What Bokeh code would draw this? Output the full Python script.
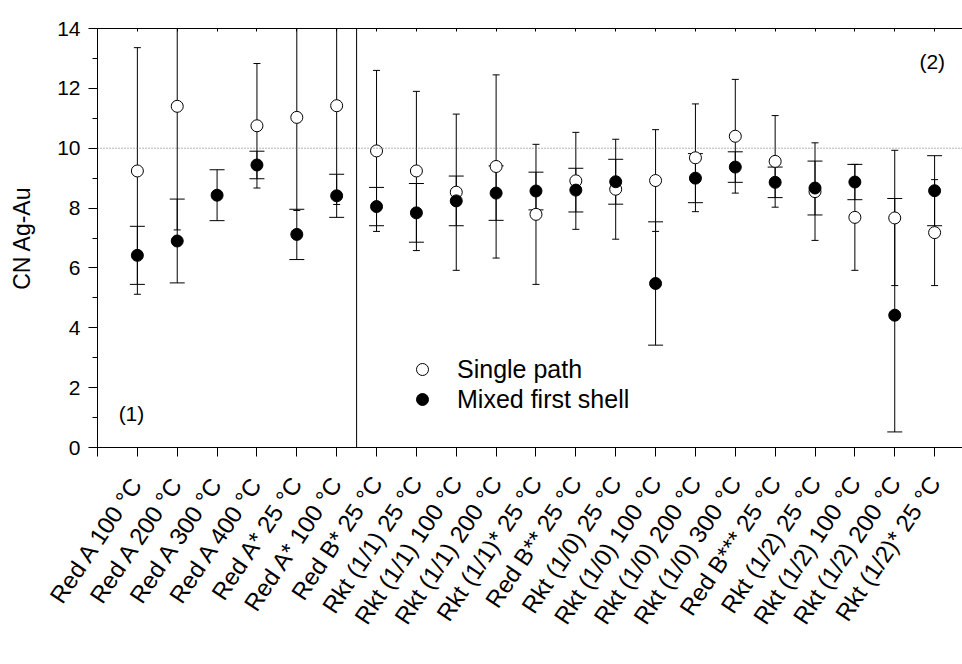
from bokeh.plotting import figure
from bokeh.models import (ColumnDataSource, Range1d, FixedTicker, SingleIntervalTicker,
                          LinearAxis, Span, Label, Legend, LegendItem)
from bokeh.embed import file_html
from bokeh.resources import INLINE

# ---- data -------------------------------------------------------------
categories = ["Red A 100 °C", "Red A 200 °C", "Red A 300 °C", "Red A 400 °C",
              "Red A* 25 °C", "Red A* 100 °C", "Red B* 25 °C",
              "Rkt (1/1) 25 °C", "Rkt (1/1) 100 °C", "Rkt (1/1) 200 °C",
              "Rkt (1/1)* 25 °C", "Red B** 25 °C",
              "Rkt (1/0) 25 °C", "Rkt (1/0) 100 °C", "Rkt (1/0) 200 °C",
              "Rkt (1/0) 300 °C", "Red B*** 25 °C",
              "Rkt (1/2) 25 °C", "Rkt (1/2) 100 °C", "Rkt (1/2) 200 °C",
              "Rkt (1/2)* 25 °C"]

single_path = [9.24, 11.40, None, 10.75, 11.03, 11.42, 9.91, 9.24, 8.53, 9.39, 7.79,
               8.91, 8.63, 8.92, 9.68, 10.40, 9.56, 8.55, 7.69, 7.67, 7.18]
single_err = [4.12, 4.13, None, 2.08, 3.11, 3.30, 2.69, 2.66, 2.61, 3.06, 2.34,
              1.62, 1.67, 1.70, 1.80, 1.90, 1.53, 1.63, 1.77, 2.26, 1.77]

mixed_shell = [6.42, 6.90, 8.43, 9.44, 7.12, 8.41, 8.05, 7.84, 8.24, 8.50, 8.57,
               8.60, 8.88, 5.48, 9.00, 9.37, 8.86, 8.67, 8.87, 4.42, 8.58]
mixed_err = [0.97, 1.40, 0.85, 0.46, 0.84, 0.72, 0.64, 0.98, 0.83, 0.91, 0.63,
             0.73, 0.75, 2.06, 0.82, 0.51, 0.51, 0.90, 0.59, 3.90, 1.17]

y_ticks_interval = 2
reference_cn = 10
group_split = 6.5

FONT = "Liberation Sans"


def make_source(vals, errs):
    xs, ys, lo, hi = [], [], [], []
    for i, (v, e) in enumerate(zip(vals, errs)):
        if v is None:
            continue
        xs.append(i + 1)
        ys.append(v)
        lo.append(v - e)
        hi.append(v + e)
    return ColumnDataSource(dict(x=xs, y=ys, lo=lo, hi=hi))


src_s = make_source(single_path, single_err)
src_m = make_source(mixed_shell, mixed_err)

n = len(categories)
positions = list(range(1, n + 1))

p = figure(width=962, height=664, output_backend="svg", toolbar_location=None,
           x_range=Range1d(0, 21.70), y_range=Range1d(0, 14),
           min_border_left=97, min_border_right=0, min_border_top=28,
           min_border_bottom=217)
p.grid.visible = False
p.outline_line_color = None
p.background_fill_color = "white"
p.border_fill_color = "white"

# bottom axis
p.xaxis.ticker = FixedTicker(ticks=positions, minor_ticks=[0])
p.xaxis.major_label_overrides = {i + 1: c for i, c in enumerate(categories)}
p.xaxis.major_tick_out = 9
p.xaxis.major_tick_in = 0
p.xaxis.minor_tick_out = 9
p.xaxis.minor_tick_in = 0
p.xaxis.major_label_orientation = 0.98
p.xaxis.major_label_standoff = 22
p.xaxis.major_label_text_font = FONT
p.xaxis.major_label_text_font_size = "24px"
p.xaxis.major_label_text_color = "black"
p.xaxis.axis_line_color = "black"
p.xaxis.major_tick_line_color = "black"
p.xaxis.minor_tick_line_color = "black"

# left axis
p.yaxis.ticker = SingleIntervalTicker(interval=y_ticks_interval, num_minor_ticks=2)
p.yaxis.major_tick_out = 9
p.yaxis.major_tick_in = 0
p.yaxis.minor_tick_out = 5
p.yaxis.minor_tick_in = 0
p.yaxis.major_label_standoff = 8
p.yaxis.major_label_text_font = FONT
p.yaxis.major_label_text_font_size = "21px"
p.yaxis.major_label_text_color = "black"
p.yaxis.axis_label = "CN Ag-Au"
p.yaxis.axis_label_text_font = FONT
p.yaxis.axis_label_text_font_size = "23px"
p.yaxis.axis_label_text_font_style = "normal"
p.yaxis.axis_label_text_color = "black"
p.yaxis.axis_label_standoff = 19
p.yaxis.axis_line_color = "black"

# top axis (inner ticks only, no labels)
top = LinearAxis(ticker=FixedTicker(ticks=[], minor_ticks=[0] + positions),
                 major_tick_in=0, major_tick_out=0,
                 minor_tick_in=3, minor_tick_out=0,
                 axis_line_color="black", minor_tick_line_color="black")
p.add_layout(top, "above")

# reference lines
p.add_layout(Span(location=reference_cn, dimension="width", line_color="#666666",
                  line_dash="1 2", line_width=1))
p.add_layout(Span(location=group_split, dimension="height", line_color="black",
                  line_width=1))

# error bars
for src, cap in ((src_s, 7), (src_m, 15)):
    p.segment(x0="x", y0="lo", x1="x", y1="hi", source=src, line_color="black",
              line_width=1)
    p.scatter(x="x", y="hi", marker="dash", size=cap, line_color="black",
              line_width=1, source=src)
    p.scatter(x="x", y="lo", marker="dash", size=cap, line_color="black",
              line_width=1, source=src)

r_open = p.scatter(x="x", y="y", source=src_s, size=12, marker="circle",
                   fill_color="white", line_color="black", line_width=1)
r_fill = p.scatter(x="x", y="y", source=src_m, size=12, marker="circle",
                   fill_color="black", line_color="black", line_width=1)

legend = Legend(items=[LegendItem(label="Single path", renderers=[r_open]),
                       LegendItem(label="Mixed first shell", renderers=[r_fill])],
                location=(310, 33), padding=0, margin=0, spacing=0,
                glyph_width=30, glyph_height=30, label_standoff=20,
                label_text_font=FONT, label_text_font_size="25px",
                label_text_color="black",
                border_line_color=None, background_fill_alpha=0)
p.add_layout(legend)

p.add_layout(Label(x=0.53, y=1.13, text="(1)", text_font=FONT, text_font_size="21px",
                   text_baseline="middle", text_align="left", text_color="black"))
p.add_layout(Label(x=20.62, y=12.9, text="(2)", text_font=FONT, text_font_size="21px",
                   text_baseline="middle", text_align="left", text_color="black"))

open("out.html", "w").write(file_html(p, INLINE))
